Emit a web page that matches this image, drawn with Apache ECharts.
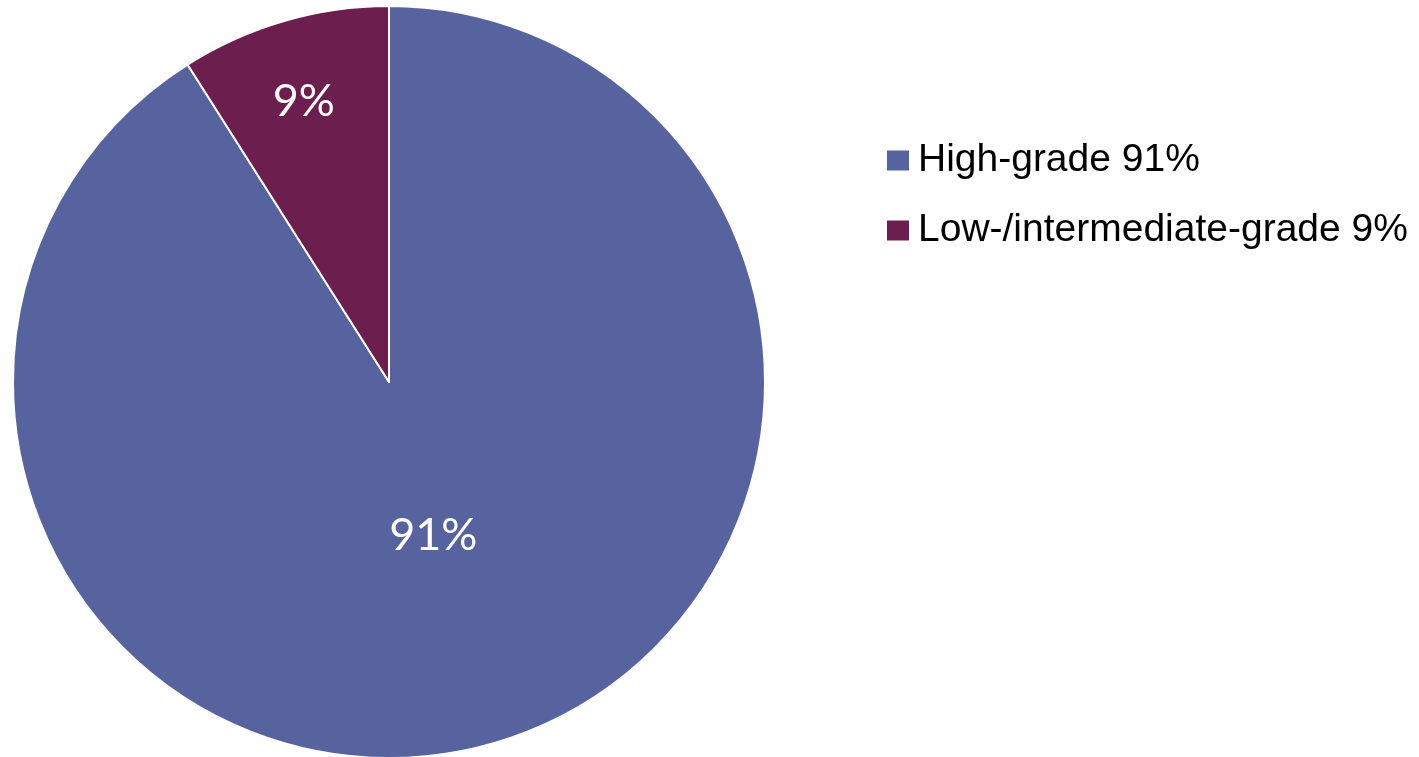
<!DOCTYPE html>
<html>
<head>
<meta charset="utf-8">
<style>
  html, body { margin: 0; padding: 0; background: #ffffff; }
  #chart { width: 1419px; height: 757px; }
</style>
<script src="https://cdn.jsdelivr.net/npm/echarts@6/dist/echarts.min.js"></script>
</head>
<body>
<div id="chart"></div>
<script>
// Tumour grade distribution
const categories = ['High-grade', 'Low-/intermediate-grade'];
const shares = [91, 9];
const sliceColors = ['#57639f', '#6c1f4f'];
// per-slice nudges of the inside labels (px)
const labelNudges = [[-9, -30], [-32, -97]];

const chart = echarts.init(document.getElementById('chart'));

const data = categories.map((name, i) => ({
  name: name,
  value: shares[i],
  itemStyle: { color: sliceColors[i] }
}));

chart.setOption({
  animation: false,
  backgroundColor: '#ffffff',
  legend: {
    orient: 'vertical',
    left: 880,
    top: 136,
    itemWidth: 24,
    itemHeight: 22,
    itemGap: 31,
    icon: 'rect',
    data: categories,
    formatter: function (name) {
      const i = categories.indexOf(name);
      return name + ' ' + shares[i] + '%';
    },
    textStyle: {
      fontFamily: '"Liberation Sans", Arial, sans-serif',
      fontSize: 39,
      lineHeight: 39,
      color: '#000000',
      padding: [0, 0, 0, 3]
    }
  },
  series: [{
    type: 'pie',
    center: [389, 382],
    radius: [0, 376],
    startAngle: 90,
    clockwise: true,
    data: data,
    itemStyle: { borderColor: '#ffffff', borderWidth: 2 },
    label: {
      show: true,
      position: 'inside',
      formatter: '{c}%',
      color: '#ffffff',
      fontFamily: 'Lato, "Open Sans", sans-serif',
      fontSize: 45
    },
    labelLayout: function (params) {
      const n = labelNudges[params.dataIndex];
      return { dx: n[0], dy: n[1] };
    },
    emphasis: { disabled: true }
  }]
});
</script>
</body>
</html>
